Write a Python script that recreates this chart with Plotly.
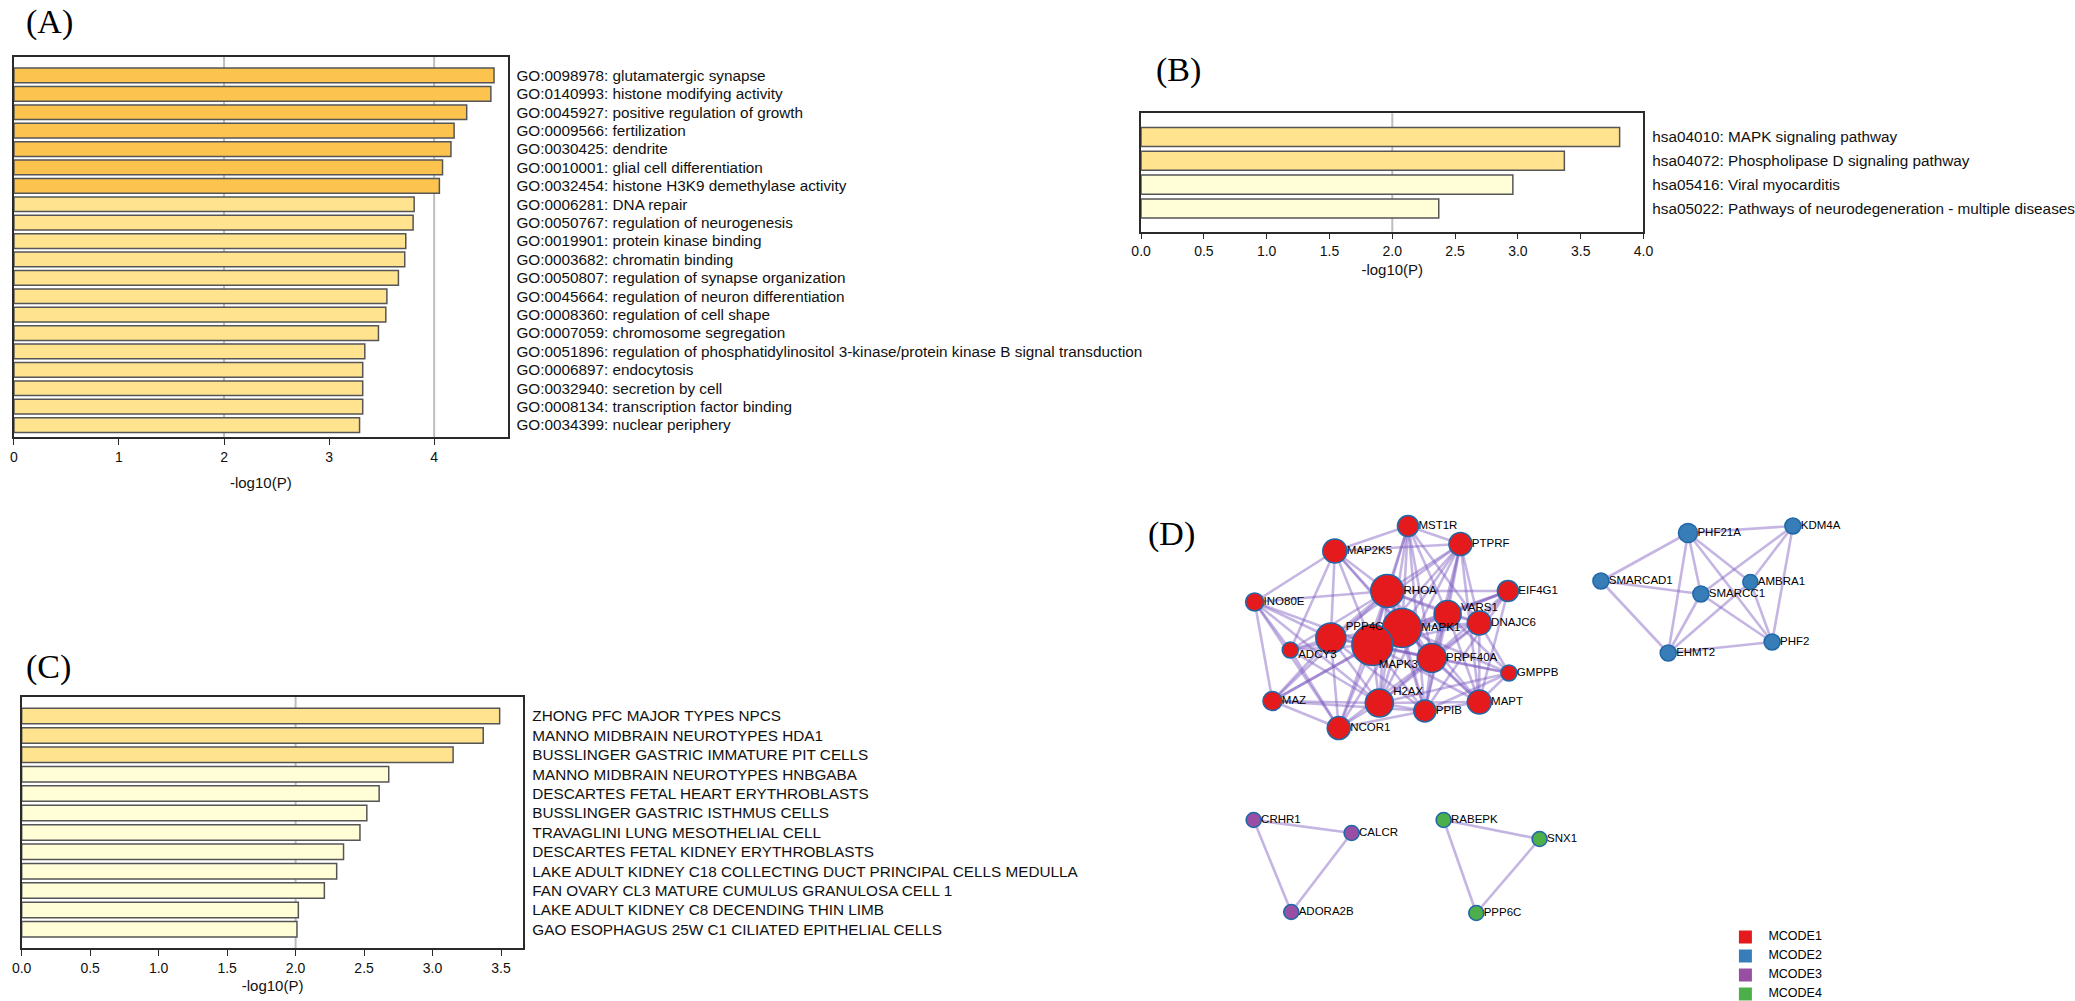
import plotly.graph_objects as go

W, H = 2075, 1001

# ---------------- data ----------------
A_terms = [
    "GO:0098978: glutamatergic synapse",
    "GO:0140993: histone modifying activity",
    "GO:0045927: positive regulation of growth",
    "GO:0009566: fertilization",
    "GO:0030425: dendrite",
    "GO:0010001: glial cell differentiation",
    "GO:0032454: histone H3K9 demethylase activity",
    "GO:0006281: DNA repair",
    "GO:0050767: regulation of neurogenesis",
    "GO:0019901: protein kinase binding",
    "GO:0003682: chromatin binding",
    "GO:0050807: regulation of synapse organization",
    "GO:0045664: regulation of neuron differentiation",
    "GO:0008360: regulation of cell shape",
    "GO:0007059: chromosome segregation",
    "GO:0051896: regulation of phosphatidylinositol 3-kinase/protein kinase B signal transduction",
    "GO:0006897: endocytosis",
    "GO:0032940: secretion by cell",
    "GO:0008134: transcription factor binding",
    "GO:0034399: nuclear periphery",
]
A_vals = [4.57, 4.54, 4.31, 4.19, 4.16, 4.08, 4.05, 3.81, 3.80, 3.73,
          3.72, 3.66, 3.55, 3.54, 3.47, 3.34, 3.32, 3.32, 3.32, 3.29]
A_level = [2, 2, 2, 2, 2, 2, 2, 1, 1, 1, 1, 1, 1, 1, 1, 1, 1, 1, 1, 1]

B_terms = [
    "hsa04010: MAPK signaling pathway",
    "hsa04072: Phospholipase D signaling pathway",
    "hsa05416: Viral myocarditis",
    "hsa05022: Pathways of neurodegeneration - multiple diseases",
]
B_vals = [3.81, 3.37, 2.96, 2.37]
B_level = [1, 1, 0, 0]

C_terms = [
    "ZHONG PFC MAJOR TYPES NPCS",
    "MANNO MIDBRAIN NEUROTYPES HDA1",
    "BUSSLINGER GASTRIC IMMATURE PIT CELLS",
    "MANNO MIDBRAIN NEUROTYPES HNBGABA",
    "DESCARTES FETAL HEART ERYTHROBLASTS",
    "BUSSLINGER GASTRIC ISTHMUS CELLS",
    "TRAVAGLINI LUNG MESOTHELIAL CELL",
    "DESCARTES FETAL KIDNEY ERYTHROBLASTS",
    "LAKE ADULT KIDNEY C18 COLLECTING DUCT PRINCIPAL CELLS MEDULLA",
    "FAN OVARY CL3 MATURE CUMULUS GRANULOSA CELL 1",
    "LAKE ADULT KIDNEY C8 DECENDING THIN LIMB",
    "GAO ESOPHAGUS 25W C1 CILIATED EPITHELIAL CELLS",
]
C_vals = [3.49, 3.37, 3.15, 2.68, 2.61, 2.52, 2.47, 2.35, 2.30, 2.21, 2.02, 2.01]
C_level = [1, 1, 1, 0, 0, 0, 0, 0, 0, 0, 0, 0]

A_ticks = [0, 1, 2, 3, 4]
B_ticks = [0.0, 0.5, 1.0, 1.5, 2.0, 2.5, 3.0, 3.5, 4.0]
C_ticks = [0.0, 0.5, 1.0, 1.5, 2.0, 2.5, 3.0, 3.5]
A_grid = [2, 4]
B_grid = [2]
C_grid = [2]

# network (MCODE clusters)
genes = ["MST1R", "PTPRF", "MAP2K5", "RHOA", "EIF4G1", "INO80E", "VARS1", "DNAJC6",
         "MAPK1", "PPP4C", "MAPK3", "ADCY3", "PRPF40A", "GMPPB", "MAZ", "H2AX",
         "PPIB", "MAPT", "NCOR1",
         "PHF21A", "KDM4A", "SMARCAD1", "AMBRA1", "SMARCC1", "PHF2", "EHMT2",
         "CRHR1", "CALCR", "ADORA2B",
         "RABEPK", "SNX1", "PPP6C"]
cluster = [1] * 19 + [2] * 7 + [3] * 3 + [4] * 3
edges = [
    ("INO80E", "MAP2K5"), ("INO80E", "RHOA"), ("INO80E", "PPP4C"), ("INO80E", "MAPK3"),
    ("INO80E", "MAZ"), ("INO80E", "H2AX"), ("INO80E", "NCOR1"), ("INO80E", "ADCY3"),
    ("MAP2K5", "MST1R"), ("MAP2K5", "PTPRF"), ("MAP2K5", "RHOA"), ("MAP2K5", "MAPK1"),
    ("MAP2K5", "MAPK3"), ("MAP2K5", "PPP4C"), ("MAP2K5", "ADCY3"), ("MAP2K5", "PRPF40A"),
    ("MST1R", "PTPRF"), ("MST1R", "RHOA"), ("MST1R", "MAPK1"), ("MST1R", "MAPK3"),
    ("MST1R", "VARS1"), ("MST1R", "PRPF40A"), ("MST1R", "DNAJC6"), ("MST1R", "H2AX"),
    ("MST1R", "PPIB"),
    ("PTPRF", "RHOA"), ("PTPRF", "MAPK1"), ("PTPRF", "MAPK3"), ("PTPRF", "VARS1"),
    ("PTPRF", "DNAJC6"), ("PTPRF", "PRPF40A"), ("PTPRF", "MAPT"), ("PTPRF", "PPIB"),
    ("PTPRF", "PPP4C"), ("PTPRF", "H2AX"),
    ("RHOA", "MAPK1"), ("RHOA", "MAPK3"), ("RHOA", "PPP4C"), ("RHOA", "VARS1"),
    ("RHOA", "EIF4G1"), ("RHOA", "PRPF40A"), ("RHOA", "DNAJC6"), ("RHOA", "H2AX"),
    ("RHOA", "ADCY3"), ("RHOA", "MAZ"), ("RHOA", "NCOR1"), ("RHOA", "PPIB"), ("RHOA", "MAPT"),
    ("EIF4G1", "MAPK1"), ("EIF4G1", "VARS1"), ("EIF4G1", "DNAJC6"), ("EIF4G1", "PRPF40A"),
    ("EIF4G1", "MAPK3"), ("EIF4G1", "MAPT"), ("EIF4G1", "PPIB"),
    ("VARS1", "MAPK1"), ("VARS1", "MAPK3"), ("VARS1", "DNAJC6"), ("VARS1", "PRPF40A"),
    ("VARS1", "GMPPB"), ("VARS1", "MAPT"), ("VARS1", "PPIB"),
    ("DNAJC6", "MAPK1"), ("DNAJC6", "MAPK3"), ("DNAJC6", "PRPF40A"), ("DNAJC6", "GMPPB"),
    ("DNAJC6", "MAPT"), ("DNAJC6", "H2AX"),
    ("MAPK1", "MAPK3"), ("MAPK1", "PPP4C"), ("MAPK1", "PRPF40A"), ("MAPK1", "H2AX"),
    ("MAPK1", "PPIB"), ("MAPK1", "MAPT"), ("MAPK1", "NCOR1"), ("MAPK1", "GMPPB"),
    ("MAPK1", "ADCY3"), ("MAPK1", "MAZ"),
    ("MAPK3", "PPP4C"), ("MAPK3", "PRPF40A"), ("MAPK3", "H2AX"), ("MAPK3", "PPIB"),
    ("MAPK3", "MAPT"), ("MAPK3", "NCOR1"), ("MAPK3", "MAZ"), ("MAPK3", "ADCY3"),
    ("MAPK3", "GMPPB"),
    ("PPP4C", "ADCY3"), ("PPP4C", "H2AX"), ("PPP4C", "NCOR1"), ("PPP4C", "MAZ"),
    ("PPP4C", "PRPF40A"), ("PPP4C", "PPIB"),
    ("ADCY3", "NCOR1"), ("ADCY3", "H2AX"),
    ("PRPF40A", "H2AX"), ("PRPF40A", "PPIB"), ("PRPF40A", "MAPT"), ("PRPF40A", "GMPPB"),
    ("PRPF40A", "NCOR1"),
    ("GMPPB", "MAPT"), ("GMPPB", "PPIB"), ("GMPPB", "H2AX"),
    ("MAZ", "H2AX"), ("MAZ", "NCOR1"), ("MAZ", "PPIB"),
    ("H2AX", "PPIB"), ("H2AX", "NCOR1"), ("H2AX", "MAPT"),
    ("PPIB", "MAPT"), ("PPIB", "NCOR1"),
    ("PHF21A", "KDM4A"), ("PHF21A", "SMARCAD1"), ("PHF21A", "SMARCC1"), ("PHF21A", "EHMT2"),
    ("PHF21A", "PHF2"), ("PHF21A", "AMBRA1"), ("KDM4A", "SMARCC1"), ("KDM4A", "AMBRA1"),
    ("KDM4A", "PHF2"), ("SMARCAD1", "SMARCC1"), ("SMARCAD1", "EHMT2"), ("SMARCC1", "EHMT2"),
    ("SMARCC1", "PHF2"), ("EHMT2", "PHF2"), ("AMBRA1", "PHF2"), ("AMBRA1", "EHMT2"),
    ("CRHR1", "CALCR"), ("CRHR1", "ADORA2B"), ("CALCR", "ADORA2B"),
    ("RABEPK", "SNX1"), ("RABEPK", "PPP6C"), ("SNX1", "PPP6C"),
]
legend_names = ["MCODE1", "MCODE2", "MCODE3", "MCODE4"]

# network layout (pixel coordinates of the drawing)
node_x = [1413, 1466, 1339, 1392, 1514, 1258, 1453, 1485, 1407, 1335, 1377, 1294, 1437,
          1515, 1276, 1384, 1430, 1485, 1343,
          1696, 1802, 1608, 1759, 1709, 1781, 1676,
          1257, 1356, 1295,
          1449, 1546, 1482]
node_y = [526, 544, 551, 591, 591, 602, 614, 623, 628, 638, 645, 650, 658, 673, 701, 703,
          711, 702, 728,
          533, 526, 581, 582, 594, 642, 653,
          820, 833, 912,
          820, 839, 913]
node_r = [10.5, 11.5, 12, 16.5, 10.5, 9, 13.5, 12, 19.5, 15, 20.5, 8, 14.5, 8, 9.5, 14,
          11, 12, 11.5,
          9.5, 8, 8, 7.5, 8, 8, 8,
          7.5, 7.5, 7.5,
          7.5, 7.5, 7.5]
label_dx = [0] * 32
label_dy = [0] * 32
label_dx[genes.index("MAPK3")] = -14
label_dy[genes.index("MAPK3")] = 20
label_dy[genes.index("PPP4C")] = -11
label_dy[genes.index("H2AX")] = -11
label_dy[genes.index("VARS1")] = -6
label_dy[genes.index("ADCY3")] = 5
legend_x = [1754] * 4
legend_y = [937, 956, 975, 994]

# ---------------- styling ----------------
FONT = "Liberation Sans, Arial, sans-serif"
SERIF = "Liberation Serif, Times New Roman, serif"
bar_palette = {2: "#FCC44E", 1: "#FFE38F", 0: "#FFFED6"}
clu_colors = {1: "#E41A1C", 2: "#377EB8", 3: "#984EA3", 4: "#4DAF4A"}
AXCOL = "#2a2a2a"

def px_dom(a, b, total):
    return [a / total, b / total]

def py_dom(top, bottom):
    return [1 - bottom / H, 1 - top / H]

fig = go.Figure()

panels = [
    # name, terms, vals, levels, ticks, grid, xdom(px), ydom(px), xmax, y pad, tickformat, title standoff
    ("", A_terms, A_vals, A_level, A_ticks, A_grid, (4, 503), (56.7, 437), 4.70, (1.02, 0.65), "d", 14),
    ("2", B_terms, B_vals, B_level, B_ticks, B_grid, (1143.2, 1651), (113.3, 231.7), 4.0, (1.0, 0.98), ".1f", 6),
    ("3", C_terms, C_vals, C_level, C_ticks, C_grid, (11.8, 519), (696.7, 948.3), 3.664, (1.0, 0.98), ".1f", 6),
]

shapes = []
for name, terms, vals, lev, ticks, grid, xd, yd, xmax, pad, tf, stand in panels:
    xa = "x" + name
    ya = "y" + name
    n = len(terms)
    idx = list(range(n))
    fig.add_trace(go.Bar(
        x=vals, y=idx, orientation="h", width=0.8,
        marker=dict(color=[bar_palette[l] for l in lev], line=dict(color="#555555", width=1.5)),
        xaxis=xa, yaxis=ya, showlegend=False, hovertext=terms, hoverinfo="x+text",
    ))
    fig.layout["xaxis" + name] = dict(
        domain=px_dom(xd[0], xd[1], W), anchor=ya, range=[0, xmax],
        showline=True, mirror=True, linecolor=AXCOL, linewidth=1.5,
        ticks="outside", ticklen=6, tickcolor=AXCOL, tickwidth=1.2,
        tickvals=ticks, tickformat=tf, showgrid=False, zeroline=False,
        tickfont=dict(family=FONT, size=14, color="#111"),
        title=dict(text="-log10(P)", font=dict(family=FONT, size=15, color="#111"), standoff=stand),
    )
    fig.layout["yaxis" + name] = dict(
        domain=py_dom(yd[0], yd[1]), anchor=xa, side="right",
        range=[n - 1 + pad[1], -pad[0]],
        showline=True, mirror=True, linecolor=AXCOL, linewidth=1.5,
        ticks="", tickvals=idx, ticktext=terms, showgrid=False, zeroline=False,
        ticklabelstandoff=4,
        tickfont=dict(family=FONT, size=15.3, color="#111"),
    )
    for g in grid:
        shapes.append(dict(type="line", xref=xa, yref=ya + " domain", x0=g, x1=g, y0=0, y1=1,
                           line=dict(color="#BEBEBE", width=2), layer="below"))

# ---------------- network panel ----------------
pos = {g: (x, y) for g, x, y in zip(genes, node_x, node_y)}
for a, b in edges:
    fig.add_trace(go.Scatter(
        x=[pos[a][0], pos[b][0]], y=[pos[a][1], pos[b][1]], mode="lines",
        line=dict(color="rgba(125,90,190,0.45)", width=2.6),
        xaxis="x4", yaxis="y4", showlegend=False, hoverinfo="skip",
    ))

fig.add_trace(go.Scatter(
    x=node_x, y=node_y, mode="markers",
    marker=dict(size=[2 * r for r in node_r], color=[clu_colors[c] for c in cluster],
                line=dict(color="#2268A8", width=1.6), opacity=1),
    xaxis="x4", yaxis="y4", showlegend=False, text=genes, hoverinfo="text",
))
fig.add_trace(go.Scatter(
    x=[x + r + dx for x, r, dx in zip(node_x, node_r, label_dx)],
    y=[y + dy for y, dy in zip(node_y, label_dy)],
    mode="text", text=genes, textposition="middle right",
    textfont=dict(family=FONT, size=11.5, color="#000"),
    xaxis="x4", yaxis="y4", showlegend=False, hoverinfo="skip", cliponaxis=False,
))
fig.add_trace(go.Scatter(
    x=legend_x, y=legend_y, mode="markers+text", text=["    " + s for s in legend_names],
    textposition="middle right",
    marker=dict(symbol="square", size=13, color=[clu_colors[i] for i in (1, 2, 3, 4)],
                line=dict(width=0)),
    textfont=dict(family=FONT, size=12.5, color="#000"),
    xaxis="x4", yaxis="y4", showlegend=False, hoverinfo="skip", cliponaxis=False,
))
fig.layout["xaxis4"] = dict(domain=px_dom(1150, 2075, W), range=[1150, 2075], visible=False,
                            anchor="y4", fixedrange=True)
fig.layout["yaxis4"] = dict(domain=[0, 1 - 490 / H], range=[1001, 490], visible=False,
                            anchor="x4", fixedrange=True)

# ---------------- panel letters ----------------
annotations = []
for txt, cx, cy in [("(A)", 40, 22), ("(B)", 1181, 70), ("(C)", 39, 667), ("(D)", 1174, 534)]:
    annotations.append(dict(text=txt, x=cx / W, y=1 - cy / H, xref="paper", yref="paper",
                            showarrow=False, xanchor="center", yanchor="middle",
                            font=dict(family=SERIF, size=34, color="#000")))

fig.update_layout(
    width=W, height=H, margin=dict(l=0, r=0, t=0, b=0),
    paper_bgcolor="white", plot_bgcolor="rgba(0,0,0,0)",
    shapes=shapes, annotations=annotations, bargap=0.2,
    font=dict(family=FONT, color="#111"),
)

fig.write_html("out.html", config={"displayModeBar": False},
               post_script="document.body.style.margin='0';")
